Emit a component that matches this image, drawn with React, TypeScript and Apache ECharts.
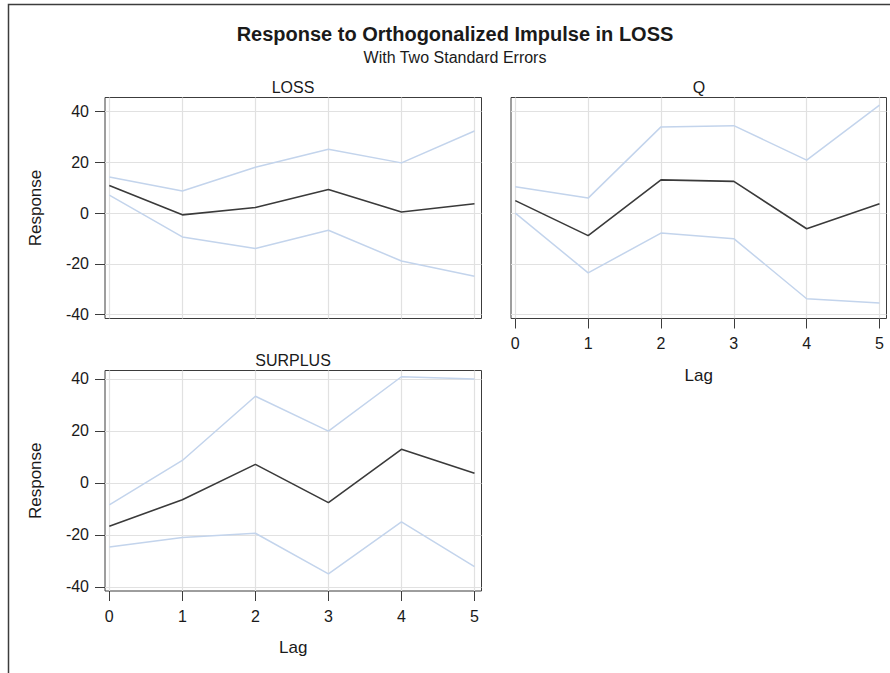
import React, { useEffect, useRef } from "react";
import * as echarts from "echarts";

// ---- data ----
const lags = [0, 1, 2, 3, 4, 5];
const yTickValues = [-40, -20, 0, 20, 40];
const panelNames = ["LOSS", "Q", "SURPLUS"];

const lossResponse = [10.9, -0.7, 2.2, 9.3, 0.4, 3.7];
const lossUpper = [14.2, 8.7, 18.1, 25.2, 19.8, 32.4];
const lossLower = [7.1, -9.4, -14.0, -6.8, -18.9, -24.9];

const qResponse = [4.9, -8.9, 13.1, 12.5, -6.2, 3.7];
const qUpper = [10.4, 5.9, 34.0, 34.5, 20.9, 42.6];
const qLower = [0.0, -23.6, -7.9, -10.1, -33.8, -35.5];

const surplusResponse = [-16.7, -6.5, 7.1, -7.6, 12.9, 3.7];
const surplusUpper = [-8.5, 8.6, 33.3, 19.9, 40.8, 39.9];
const surplusLower = [-24.7, -21.0, -19.4, -35.0, -15.0, -32.2];

const titleText = "Response to Orthogonalized Impulse in LOSS";
const subtitleText = "With Two Standard Errors";
const xAxisName = "Lag";
const yAxisName = "Response";

const FONT = '"Liberation Sans", Arial, Helvetica, sans-serif';
const TEXT = "#1a1a1a";
const FRAME = "#3c3c3c";
const GRIDLINE = "#e1e1e1";
const BAND = "#c3d4ec";
const MAIN = "#3a3a3a";

const pair = (vals: number[]) => lags.map((l, i) => [l, vals[i]]);

export default function App() {
  const ref = useRef<HTMLDivElement>(null);

  useEffect(() => {
    if (!ref.current) return;
    const chart = echarts.init(ref.current, null, { renderer: "svg" });

    const grids = [
      { left: 105, top: 97.5, width: 376.5, height: 221 },
      { left: 511, top: 97.5, width: 375.5, height: 221 },
      { left: 105, top: 370.5, width: 376.5, height: 220.5 },
    ].map((g) => ({
      ...g,
      show: true,
      borderColor: FRAME,
      borderWidth: 1,
      backgroundColor: "transparent",
      containLabel: false,
      outerBoundsMode: "none",
    }));

    const yRanges = [
      { min: -41.6, max: 45.6 },
      { min: -41.6, max: 45.6 },
      { min: -41.6, max: 43.2 },
    ];
    const showYLabels = [true, false, true];
    const showXLabels = [false, true, true];

    const xAxes = [0, 1, 2].map((i) => ({
      type: "value",
      gridIndex: i,
      position: "bottom",
      min: -0.059,
      max: 5.096,
      axisLine: { show: false, onZero: false },
      axisTick: {
        show: showXLabels[i],
        customValues: lags,
        length: 10,
        lineStyle: { color: FRAME, width: 1 },
      },
      axisLabel: {
        show: showXLabels[i],
        customValues: lags,
        margin: 17,
        fontSize: 16,
        color: TEXT,
        fontFamily: FONT,
      },
      splitLine: { show: true, lineStyle: { color: GRIDLINE, width: 1.2 } },
      name: showXLabels[i] ? xAxisName : "",
      nameLocation: "middle",
      nameGap: 48,
      nameTextStyle: { fontSize: 17, color: TEXT, fontFamily: FONT },
    }));

    const yAxes = [0, 1, 2].map((i) => ({
      type: "value",
      gridIndex: i,
      position: "left",
      min: yRanges[i].min,
      max: yRanges[i].max,
      axisLine: { show: false, onZero: false },
      axisTick: {
        show: showYLabels[i],
        customValues: yTickValues,
        length: 10,
        lineStyle: { color: FRAME, width: 1 },
      },
      axisLabel: {
        show: showYLabels[i],
        customValues: yTickValues,
        margin: 16,
        fontSize: 16,
        color: TEXT,
        fontFamily: FONT,
      },
      splitLine: { show: true, lineStyle: { color: GRIDLINE, width: 1.2 } },
      name: showYLabels[i] ? yAxisName : "",
      nameLocation: "middle",
      nameGap: 61,
      nameTextStyle: { fontSize: 17, color: TEXT, fontFamily: FONT },
    }));

    const panelData = [
      [lossUpper, lossLower, lossResponse],
      [qUpper, qLower, qResponse],
      [surplusUpper, surplusLower, surplusResponse],
    ];

    const series: any[] = [];
    panelData.forEach((sets, i) => {
      sets.forEach((vals, k) => {
        series.push({
          type: "line",
          xAxisIndex: i,
          yAxisIndex: i,
          data: pair(vals),
          symbol: "none",
          clip: false,
          silent: true,
          z: k === 2 ? 5 : 3,
          lineStyle: {
            color: k === 2 ? MAIN : BAND,
            width: k === 2 ? 1.6 : 1.5,
          },
        });
      });
    });

    const panelTitleCenters = [
      { x: 293, y: 87 },
      { x: 699, y: 87 },
      { x: 293, y: 360 },
    ];

    chart.setOption({
      animation: false,
      backgroundColor: "#ffffff",
      grid: grids,
      xAxis: xAxes,
      yAxis: yAxes,
      series,
      graphic: [
        {
          type: "rect",
          shape: { x: 8.5, y: 4.5, width: 1000, height: 1000 },
          style: { fill: "none", stroke: FRAME, lineWidth: 1.5 },
          silent: true,
        },
        {
          type: "text",
          x: 455,
          y: 34,
          style: {
            text: titleText,
            fontSize: 20,
            fontWeight: "bold",
            fontFamily: FONT,
            fill: TEXT,
            textAlign: "center",
            textVerticalAlign: "middle",
          },
        },
        {
          type: "text",
          x: 455,
          y: 57,
          style: {
            text: subtitleText,
            fontSize: 16,
            fontFamily: FONT,
            fill: TEXT,
            textAlign: "center",
            textVerticalAlign: "middle",
          },
        },
        ...panelNames.map((n, i) => ({
          type: "text",
          x: panelTitleCenters[i].x,
          y: panelTitleCenters[i].y,
          style: {
            text: n,
            fontSize: 16,
            fontFamily: FONT,
            fill: TEXT,
            textAlign: "center",
            textVerticalAlign: "middle",
          },
        })),
      ],
    });

    return () => chart.dispose();
  }, []);

  return (
    <div
      ref={ref}
      style={{ position: "fixed", left: 0, top: 0, width: 890, height: 673 }}
    />
  );
}
